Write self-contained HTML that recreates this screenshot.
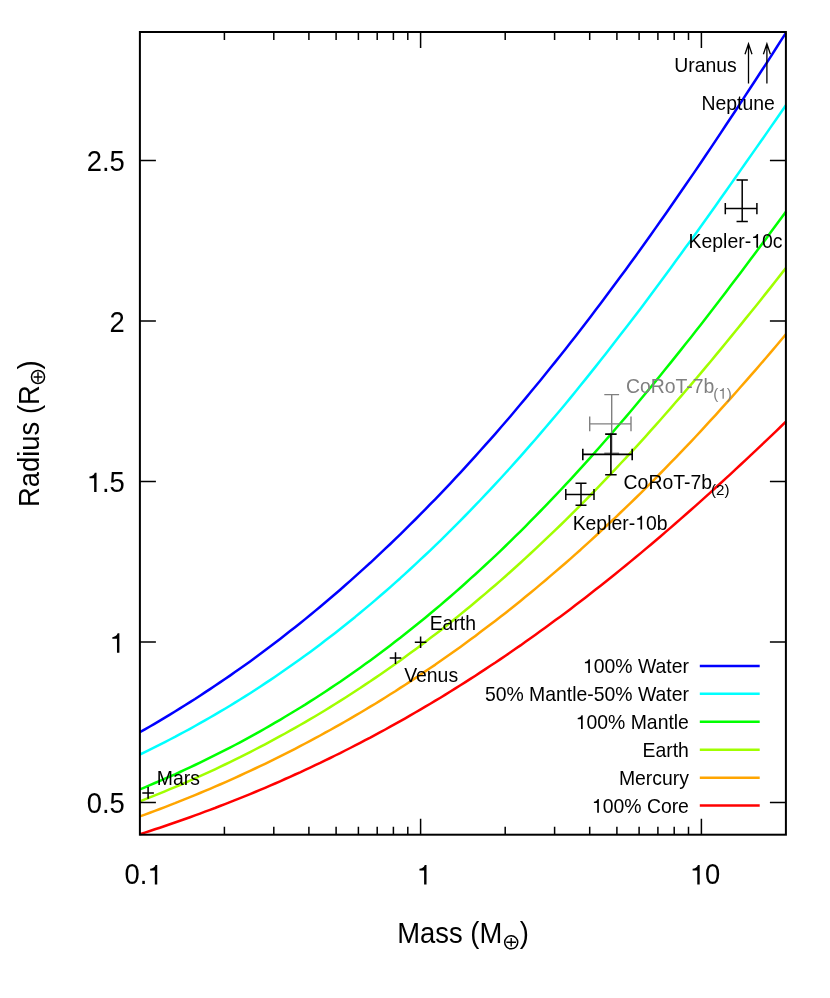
<!DOCTYPE html>
<html><head><meta charset="utf-8"><title>Mass-Radius</title>
<style>
html,body{margin:0;padding:0;background:#fff;}
svg{display:block;will-change:transform;transform:translateZ(0);}
text{font-family:"Liberation Sans",sans-serif;fill:#000;}
.big{font-size:27.4px;}
.sm{font-size:19.4px;}
.sub{font-size:15.13px;}
.g{fill:#808080;}
.h{fill:none;}
</style></head><body>
<svg width="830" height="998" viewBox="0 0 830 998">
<rect width="830" height="998" fill="#fff"/>

<g fill="none" stroke-width="2.5" stroke-linejoin="round">
<polyline stroke="#0000ff" points="139.9,732.2 144.9,729.4 149.9,726.5 154.9,723.6 159.9,720.6 164.9,717.6 169.9,714.6 175.0,711.5 180.0,708.4 185.0,705.3 190.0,702.1 195.0,699.0 200.0,695.7 205.0,692.4 210.0,689.1 215.0,685.8 220.0,682.4 225.0,679.0 230.0,675.6 235.0,672.1 240.1,668.5 245.1,665.0 250.1,661.4 255.1,657.7 260.1,654.0 265.1,650.3 270.1,646.6 275.1,642.8 280.1,638.9 285.1,635.0 290.1,631.1 295.1,627.2 300.1,623.2 305.2,619.1 310.2,615.0 315.2,610.9 320.2,606.7 325.2,602.5 330.2,598.3 335.2,594.0 340.2,589.7 345.2,585.3 350.2,580.9 355.2,576.4 360.2,571.9 365.2,567.3 370.3,562.8 375.3,558.1 380.3,553.4 385.3,548.7 390.3,544.0 395.3,539.1 400.3,534.3 405.3,529.4 410.3,524.4 415.3,519.5 420.3,514.4 425.3,509.4 430.3,504.2 435.4,499.1 440.4,493.9 445.4,488.6 450.4,483.3 455.4,477.9 460.4,472.6 465.4,467.1 470.4,461.6 475.4,456.1 480.4,450.5 485.4,444.9 490.4,439.3 495.5,433.6 500.5,427.8 505.5,422.0 510.5,416.2 515.5,410.3 520.5,404.3 525.5,398.4 530.5,392.3 535.5,386.3 540.5,380.2 545.5,374.0 550.5,367.8 555.5,361.6 560.6,355.3 565.6,349.0 570.6,342.6 575.6,336.2 580.6,329.7 585.6,323.2 590.6,316.7 595.6,310.1 600.6,303.5 605.6,296.8 610.6,290.1 615.6,283.3 620.6,276.5 625.7,269.7 630.7,262.8 635.7,255.9 640.7,249.0 645.7,242.0 650.7,235.0 655.7,227.9 660.7,220.8 665.7,213.7 670.7,206.5 675.7,199.3 680.7,192.0 685.7,184.8 690.8,177.4 695.8,170.1 700.8,162.7 705.8,155.3 710.8,147.9 715.8,140.4 720.8,132.9 725.8,125.3 730.8,117.8 735.8,110.2 740.8,102.6 745.8,94.9 750.8,87.2 755.9,79.5 760.9,71.8 765.9,64.1 770.9,56.3 775.9,48.5 780.9,40.7 785.9,32.9"/>
<polyline stroke="#00ffff" points="139.9,754.5 144.9,752.1 149.9,749.7 154.9,747.2 159.9,744.7 164.9,742.1 169.9,739.5 175.0,736.9 180.0,734.2 185.0,731.5 190.0,728.8 195.0,726.0 200.0,723.2 205.0,720.4 210.0,717.5 215.0,714.6 220.0,711.7 225.0,708.7 230.0,705.7 235.0,702.6 240.1,699.5 245.1,696.4 250.1,693.2 255.1,690.0 260.1,686.7 265.1,683.4 270.1,680.1 275.1,676.7 280.1,673.3 285.1,669.8 290.1,666.3 295.1,662.8 300.1,659.2 305.2,655.6 310.2,651.9 315.2,648.2 320.2,644.4 325.2,640.6 330.2,636.8 335.2,632.9 340.2,628.9 345.2,624.9 350.2,620.9 355.2,616.9 360.2,612.7 365.2,608.6 370.3,604.4 375.3,600.1 380.3,595.8 385.3,591.5 390.3,587.1 395.3,582.6 400.3,578.2 405.3,573.6 410.3,569.0 415.3,564.4 420.3,559.7 425.3,555.0 430.3,550.3 435.4,545.4 440.4,540.6 445.4,535.7 450.4,530.7 455.4,525.7 460.4,520.6 465.4,515.5 470.4,510.4 475.4,505.2 480.4,500.0 485.4,494.7 490.4,489.3 495.5,483.9 500.5,478.5 505.5,473.0 510.5,467.5 515.5,461.9 520.5,456.3 525.5,450.6 530.5,444.9 535.5,439.2 540.5,433.4 545.5,427.5 550.5,421.6 555.5,415.7 560.6,409.7 565.6,403.7 570.6,397.6 575.6,391.5 580.6,385.3 585.6,379.1 590.6,372.9 595.6,366.6 600.6,360.3 605.6,353.9 610.6,347.5 615.6,341.1 620.6,334.6 625.7,328.1 630.7,321.6 635.7,315.0 640.7,308.4 645.7,301.7 650.7,295.0 655.7,288.3 660.7,281.5 665.7,274.7 670.7,267.9 675.7,261.1 680.7,254.2 685.7,247.3 690.8,240.4 695.8,233.4 700.8,226.4 705.8,219.4 710.8,212.4 715.8,205.4 720.8,198.3 725.8,191.2 730.8,184.1 735.8,177.0 740.8,169.9 745.8,162.8 750.8,155.6 755.9,148.4 760.9,141.3 765.9,134.1 770.9,126.9 775.9,119.7 780.9,112.5 785.9,105.3"/>
<polyline stroke="#00ff00" points="139.9,789.3 144.9,787.3 149.9,785.2 154.9,783.0 159.9,780.9 164.9,778.7 169.9,776.5 175.0,774.3 180.0,772.0 185.0,769.7 190.0,767.4 195.0,765.0 200.0,762.6 205.0,760.2 210.0,757.7 215.0,755.2 220.0,752.7 225.0,750.2 230.0,747.6 235.0,745.0 240.1,742.3 245.1,739.6 250.1,736.9 255.1,734.1 260.1,731.3 265.1,728.5 270.1,725.6 275.1,722.7 280.1,719.8 285.1,716.8 290.1,713.8 295.1,710.8 300.1,707.7 305.2,704.6 310.2,701.4 315.2,698.2 320.2,695.0 325.2,691.7 330.2,688.4 335.2,685.0 340.2,681.7 345.2,678.2 350.2,674.7 355.2,671.2 360.2,667.7 365.2,664.1 370.3,660.4 375.3,656.8 380.3,653.1 385.3,649.3 390.3,645.5 395.3,641.6 400.3,637.8 405.3,633.8 410.3,629.8 415.3,625.8 420.3,621.8 425.3,617.7 430.3,613.5 435.4,609.3 440.4,605.1 445.4,600.8 450.4,596.5 455.4,592.1 460.4,587.7 465.4,583.3 470.4,578.7 475.4,574.2 480.4,569.6 485.4,565.0 490.4,560.3 495.5,555.6 500.5,550.8 505.5,546.0 510.5,541.1 515.5,536.2 520.5,531.3 525.5,526.3 530.5,521.2 535.5,516.1 540.5,511.0 545.5,505.8 550.5,500.6 555.5,495.4 560.6,490.0 565.6,484.7 570.6,479.3 575.6,473.9 580.6,468.4 585.6,462.9 590.6,457.3 595.6,451.7 600.6,446.0 605.6,440.3 610.6,434.6 615.6,428.8 620.6,423.0 625.7,417.1 630.7,411.2 635.7,405.3 640.7,399.3 645.7,393.3 650.7,387.2 655.7,381.1 660.7,375.0 665.7,368.8 670.7,362.6 675.7,356.4 680.7,350.1 685.7,343.8 690.8,337.5 695.8,331.1 700.8,324.7 705.8,318.2 710.8,311.8 715.8,305.3 720.8,298.8 725.8,292.2 730.8,285.6 735.8,279.0 740.8,272.4 745.8,265.7 750.8,259.0 755.9,252.3 760.9,245.6 765.9,238.9 770.9,232.1 775.9,225.3 780.9,218.5 785.9,211.7"/>
<polyline stroke="#a0ff00" points="139.9,801.3 144.9,799.3 149.9,797.4 154.9,795.4 159.9,793.3 164.9,791.3 169.9,789.2 175.0,787.1 180.0,785.0 185.0,782.8 190.0,780.6 195.0,778.4 200.0,776.2 205.0,773.9 210.0,771.6 215.0,769.3 220.0,766.9 225.0,764.5 230.0,762.1 235.0,759.6 240.1,757.2 245.1,754.7 250.1,752.1 255.1,749.5 260.1,746.9 265.1,744.3 270.1,741.6 275.1,738.9 280.1,736.2 285.1,733.5 290.1,730.7 295.1,727.8 300.1,725.0 305.2,722.1 310.2,719.2 315.2,716.2 320.2,713.2 325.2,710.2 330.2,707.1 335.2,704.0 340.2,700.9 345.2,697.7 350.2,694.5 355.2,691.2 360.2,688.0 365.2,684.6 370.3,681.3 375.3,677.9 380.3,674.5 385.3,671.0 390.3,667.5 395.3,664.0 400.3,660.4 405.3,656.8 410.3,653.1 415.3,649.4 420.3,645.7 425.3,641.9 430.3,638.1 435.4,634.3 440.4,630.4 445.4,626.4 450.4,622.5 455.4,618.5 460.4,614.4 465.4,610.3 470.4,606.2 475.4,602.0 480.4,597.8 485.4,593.6 490.4,589.3 495.5,585.0 500.5,580.6 505.5,576.2 510.5,571.7 515.5,567.2 520.5,562.7 525.5,558.1 530.5,553.5 535.5,548.9 540.5,544.2 545.5,539.4 550.5,534.7 555.5,529.8 560.6,525.0 565.6,520.1 570.6,515.1 575.6,510.2 580.6,505.1 585.6,500.1 590.6,495.0 595.6,489.8 600.6,484.6 605.6,479.4 610.6,474.2 615.6,468.9 620.6,463.5 625.7,458.2 630.7,452.7 635.7,447.3 640.7,441.8 645.7,436.3 650.7,430.7 655.7,425.1 660.7,419.5 665.7,413.8 670.7,408.1 675.7,402.3 680.7,396.6 685.7,390.7 690.8,384.9 695.8,379.0 700.8,373.1 705.8,367.1 710.8,361.2 715.8,355.1 720.8,349.1 725.8,343.0 730.8,336.9 735.8,330.8 740.8,324.6 745.8,318.4 750.8,312.2 755.9,306.0 760.9,299.7 765.9,293.4 770.9,287.1 775.9,280.7 780.9,274.4 785.9,268.0"/>
<polyline stroke="#ffa500" points="139.9,816.4 144.9,814.6 149.9,812.8 154.9,810.9 159.9,809.0 164.9,807.1 169.9,805.1 175.0,803.2 180.0,801.2 185.0,799.2 190.0,797.2 195.0,795.1 200.0,793.0 205.0,790.9 210.0,788.8 215.0,786.7 220.0,784.5 225.0,782.3 230.0,780.1 235.0,777.8 240.1,775.5 245.1,773.2 250.1,770.9 255.1,768.5 260.1,766.2 265.1,763.8 270.1,761.3 275.1,758.9 280.1,756.4 285.1,753.9 290.1,751.3 295.1,748.8 300.1,746.2 305.2,743.5 310.2,740.9 315.2,738.2 320.2,735.5 325.2,732.7 330.2,730.0 335.2,727.2 340.2,724.3 345.2,721.5 350.2,718.6 355.2,715.7 360.2,712.7 365.2,709.7 370.3,706.7 375.3,703.7 380.3,700.6 385.3,697.5 390.3,694.3 395.3,691.2 400.3,687.9 405.3,684.7 410.3,681.4 415.3,678.1 420.3,674.8 425.3,671.4 430.3,668.0 435.4,664.6 440.4,661.1 445.4,657.6 450.4,654.1 455.4,650.5 460.4,646.9 465.4,643.3 470.4,639.6 475.4,635.9 480.4,632.1 485.4,628.3 490.4,624.5 495.5,620.7 500.5,616.8 505.5,612.9 510.5,608.9 515.5,604.9 520.5,600.9 525.5,596.8 530.5,592.7 535.5,588.6 540.5,584.4 545.5,580.2 550.5,575.9 555.5,571.6 560.6,567.3 565.6,563.0 570.6,558.6 575.6,554.1 580.6,549.7 585.6,545.1 590.6,540.6 595.6,536.0 600.6,531.4 605.6,526.7 610.6,522.0 615.6,517.3 620.6,512.5 625.7,507.7 630.7,502.9 635.7,498.0 640.7,493.1 645.7,488.1 650.7,483.1 655.7,478.1 660.7,473.0 665.7,467.9 670.7,462.7 675.7,457.6 680.7,452.3 685.7,447.1 690.8,441.8 695.8,436.5 700.8,431.1 705.8,425.7 710.8,420.2 715.8,414.8 720.8,409.2 725.8,403.7 730.8,398.1 735.8,392.5 740.8,386.8 745.8,381.1 750.8,375.4 755.9,369.6 760.9,363.8 765.9,358.0 770.9,352.1 775.9,346.2 780.9,340.3 785.9,334.3"/>
<polyline stroke="#ff0000" points="139.9,834.2 144.9,832.6 149.9,831.0 154.9,829.3 159.9,827.7 164.9,826.0 169.9,824.3 175.0,822.5 180.0,820.8 185.0,819.0 190.0,817.2 195.0,815.4 200.0,813.6 205.0,811.7 210.0,809.8 215.0,808.0 220.0,806.0 225.0,804.1 230.0,802.1 235.0,800.1 240.1,798.1 245.1,796.1 250.1,794.1 255.1,792.0 260.1,789.9 265.1,787.8 270.1,785.6 275.1,783.5 280.1,781.3 285.1,779.0 290.1,776.8 295.1,774.5 300.1,772.3 305.2,769.9 310.2,767.6 315.2,765.2 320.2,762.9 325.2,760.4 330.2,758.0 335.2,755.5 340.2,753.1 345.2,750.5 350.2,748.0 355.2,745.4 360.2,742.8 365.2,740.2 370.3,737.6 375.3,734.9 380.3,732.2 385.3,729.5 390.3,726.7 395.3,723.9 400.3,721.1 405.3,718.3 410.3,715.4 415.3,712.5 420.3,709.6 425.3,706.7 430.3,703.7 435.4,700.7 440.4,697.7 445.4,694.6 450.4,691.5 455.4,688.4 460.4,685.3 465.4,682.1 470.4,678.9 475.4,675.7 480.4,672.4 485.4,669.1 490.4,665.8 495.5,662.5 500.5,659.1 505.5,655.7 510.5,652.3 515.5,648.8 520.5,645.4 525.5,641.8 530.5,638.3 535.5,634.7 540.5,631.1 545.5,627.5 550.5,623.8 555.5,620.1 560.6,616.4 565.6,612.7 570.6,608.9 575.6,605.1 580.6,601.3 585.6,597.4 590.6,593.5 595.6,589.6 600.6,585.7 605.6,581.7 610.6,577.7 615.6,573.7 620.6,569.6 625.7,565.5 630.7,561.4 635.7,557.3 640.7,553.1 645.7,548.9 650.7,544.7 655.7,540.5 660.7,536.2 665.7,531.9 670.7,527.6 675.7,523.2 680.7,518.9 685.7,514.5 690.8,510.0 695.8,505.6 700.8,501.1 705.8,496.6 710.8,492.1 715.8,487.5 720.8,483.0 725.8,478.4 730.8,473.8 735.8,469.1 740.8,464.5 745.8,459.8 750.8,455.1 755.9,450.4 760.9,445.6 765.9,440.9 770.9,436.1 775.9,431.3 780.9,426.5 785.9,421.6"/>
</g>
<g stroke-width="2.5">
<line x1="699.8" x2="759.7" y1="665.9" y2="665.9" stroke="#0000ff"/>
<line x1="699.8" x2="759.7" y1="693.8" y2="693.8" stroke="#00ffff"/>
<line x1="699.8" x2="759.7" y1="721.8" y2="721.8" stroke="#00ff00"/>
<line x1="699.8" x2="759.7" y1="749.8" y2="749.8" stroke="#a0ff00"/>
<line x1="699.8" x2="759.7" y1="777.7" y2="777.7" stroke="#ffa500"/>
<line x1="699.8" x2="759.7" y1="805.6" y2="805.6" stroke="#ff0000"/>
</g>
<g stroke="#000" stroke-width="1.5" fill="none">
<path d="M224.4,834.7v-8M224.4,32.0v8M273.8,834.7v-8M273.8,32.0v8M308.9,834.7v-8M308.9,32.0v8M336.1,834.7v-8M336.1,32.0v8M358.4,834.7v-8M358.4,32.0v8M377.2,834.7v-8M377.2,32.0v8M393.4,834.7v-8M393.4,32.0v8M407.8,834.7v-8M407.8,32.0v8M505.2,834.7v-8M505.2,32.0v8M554.6,834.7v-8M554.6,32.0v8M589.7,834.7v-8M589.7,32.0v8M616.9,834.7v-8M616.9,32.0v8M639.1,834.7v-8M639.1,32.0v8M657.9,834.7v-8M657.9,32.0v8M674.2,834.7v-8M674.2,32.0v8M688.5,834.7v-8M688.5,32.0v8M420.6,834.7v-16M420.6,32.0v16M701.4,834.7v-16M701.4,32.0v16M139.9,802.6h16M785.9,802.6h-16M139.9,642.1h16M785.9,642.1h-16M139.9,481.5h16M785.9,481.5h-16M139.9,321.0h16M785.9,321.0h-16M139.9,160.4h16M785.9,160.4h-16"/>
</g>
<rect x="139.9" y="32.0" width="646.0" height="802.7" fill="none" stroke="#000" stroke-width="2"/>
<text class="big" transform="translate(397.2,942.7) scale(1,1.055)">Mass (M</text>
<g stroke="#000" stroke-width="1.5" fill="none"><circle cx="511.2" cy="942.3" r="6.55"/><path d="M506.4,942.3h9.6M511.2,938.0v8.6" stroke-width="1.4"/></g>
<text class="big" transform="translate(519.8,942.7) scale(1,1.055)">)</text>
<g transform="translate(38.9,507) rotate(-90)">
<text class="big" transform="scale(1,1.055)">Radius (R</text>
<g stroke="#000" stroke-width="1.5" fill="none"><circle cx="130" cy="-0.9" r="6.55"/><path d="M125.2,-0.9h9.6M130,-5.2v8.6" stroke-width="1.4"/></g>
<text class="big" transform="translate(137.4,0) scale(1,1.055)">)</text>
</g>
<path d="M142.3,792.9h11.6M148.1,787.1v11.6" stroke="#000" stroke-width="1.5" fill="none"/>
<path d="M389.7,658.1h11.6M395.5,652.3v11.6" stroke="#000" stroke-width="1.5" fill="none"/>
<path d="M414.8,642.2h11.6M420.6,636.4v11.6" stroke="#000" stroke-width="1.5" fill="none"/>
<path d="M589.7,423.9H631.0M589.7,416.5v14.8M631.0,416.5v14.8M611.7,394.6V453.2M604.3000000000001,394.6h14.8M604.3000000000001,453.2h14.8" stroke="#808080" stroke-width="1.4" fill="none"/>
<path d="M582.8,454.4H632.2M582.8,448.65v11.5M632.2,448.65v11.5M610.9,434.1V474.7M605.15,434.1h11.5M605.15,474.7h11.5" stroke="#000" stroke-width="1.6" fill="none"/>
<path d="M565.8,494.4H594M565.8,488.9v11M594,488.9v11M581,483.3V505.2M575.5,483.3h11M575.5,505.2h11" stroke="#000" stroke-width="1.5" fill="none"/>
<path d="M725.3,208.6H756.9M725.3,202.95v11.3M756.9,202.95v11.3M742.2,180.1V221.4M736.5500000000001,180.1h11.3M736.5500000000001,221.4h11.3" stroke="#000" stroke-width="1.5" fill="none"/>
<path d="M748.5,83.4V44M745.0,54.2L748.5,43.7L752.0,54.2" stroke="#000" stroke-width="1.3" fill="none"/>
<path d="M766.9,83.4V44M763.4,54.2L766.9,43.7L770.4,54.2" stroke="#000" stroke-width="1.3" fill="none"/>
<text class="sm" transform="translate(688.9,673.1) scale(1,1.02)" text-anchor="end"><tspan class="h">1</tspan>00% Water</text>
<text class="sm" transform="translate(688.9,701.0) scale(1,1.02)" text-anchor="end">50% Mantle-50% Water</text>
<text class="sm" transform="translate(688.9,729.0) scale(1,1.02)" text-anchor="end"><tspan class="h">1</tspan>00% Mantle</text>
<text class="sm" transform="translate(688.9,757.0) scale(1,1.02)" text-anchor="end">Earth</text>
<text class="sm" transform="translate(688.9,784.9) scale(1,1.02)" text-anchor="end">Mercury</text>
<text class="sm" transform="translate(688.9,812.8) scale(1,1.02)" text-anchor="end"><tspan class="h">1</tspan>00% Core</text>
<text class="big" transform="translate(124.8,813.2) scale(1,1.055)" text-anchor="end">0.5</text>
<text class="big" transform="translate(124.8,652.7) scale(1,1.055)" text-anchor="end"><tspan class="h">1</tspan></text>
<text class="big" transform="translate(124.8,492.1) scale(1,1.055)" text-anchor="end"><tspan class="h">1</tspan>.5</text>
<text class="big" transform="translate(124.8,331.6) scale(1,1.055)" text-anchor="end">2</text>
<text class="big" transform="translate(124.8,171.0) scale(1,1.055)" text-anchor="end">2.5</text>
<text class="big" transform="translate(143.6,884.4) scale(1,1.055)" text-anchor="middle">0.<tspan class="h">1</tspan></text>
<text class="big" transform="translate(424.3,884.4) scale(1,1.055)" text-anchor="middle"><tspan class="h">1</tspan></text>
<text class="big" transform="translate(705.1,884.4) scale(1,1.055)" text-anchor="middle"><tspan class="h">1</tspan>0</text>
<text class="sm" transform="translate(674.2,71.6) scale(1,1.02)" text-anchor="start">Uranus</text>
<text class="sm" transform="translate(701.5,109.9) scale(1,1.02)" text-anchor="start">Neptune</text>
<text class="sm" transform="translate(688.6,247.8) scale(1,1.02)" text-anchor="start">Kepler-<tspan class="h">1</tspan>0c</text>
<text class="sm g" transform="translate(626,393.0) scale(1,1.02)" text-anchor="start">CoRoT-7b<tspan class="sub" dx="-1" dy="5.6">(<tspan class="h">1</tspan>)</tspan></text>
<text class="sm" transform="translate(623.6,489.3) scale(1,1.02)" text-anchor="start">CoRoT-7b<tspan class="sub" dx="-1" dy="5.6">(2)</tspan></text>
<text class="sm" transform="translate(667.5,529.5) scale(1,1.02)" text-anchor="end">Kepler-<tspan class="h">1</tspan>0b</text>
<text class="sm" transform="translate(476,630.0) scale(1,1.02)" text-anchor="end">Earth</text>
<text class="sm" transform="translate(404.2,681.7) scale(1,1.02)" text-anchor="start">Venus</text>
<text class="sm" transform="translate(156.8,784.6) scale(1,1.02)" text-anchor="start">Mars</text>
<path d="M359,0H271V505H101V568C188,572 262,618 296,709H359Z" fill="#000" transform="translate(582.95,673.10) scale(0.01940,-0.01940)"/>
<path d="M359,0H271V505H101V568C188,572 262,618 296,709H359Z" fill="#000" transform="translate(575.76,729.00) scale(0.01940,-0.01940)"/>
<path d="M359,0H271V505H101V568C188,572 262,618 296,709H359Z" fill="#000" transform="translate(591.92,812.80) scale(0.01940,-0.01940)"/>
<path d="M359,0H271V505H101V568C188,572 262,618 296,709H359Z" fill="#000" transform="translate(109.55,652.70) scale(0.02740,-0.02740)"/>
<path d="M359,0H271V505H101V568C188,572 262,618 296,709H359Z" fill="#000" transform="translate(86.71,492.10) scale(0.02740,-0.02740)"/>
<path d="M359,0H271V505H101V568C188,572 262,618 296,709H359Z" fill="#000" transform="translate(147.40,884.40) scale(0.02740,-0.02740)"/>
<path d="M359,0H271V505H101V568C188,572 262,618 296,709H359Z" fill="#000" transform="translate(416.68,884.40) scale(0.02740,-0.02740)"/>
<path d="M359,0H271V505H101V568C188,572 262,618 296,709H359Z" fill="#000" transform="translate(689.85,884.40) scale(0.02740,-0.02740)"/>
<path d="M359,0H271V505H101V568C188,572 262,618 296,709H359Z" fill="#000" transform="translate(751.10,247.80) scale(0.01940,-0.01940)"/>
<path d="M359,0H271V505H101V568C188,572 262,618 296,709H359Z" fill="#808080" transform="translate(718.39,398.71) scale(0.01513,-0.01513)"/>
<path d="M359,0H271V505H101V568C188,572 262,618 296,709H359Z" fill="#000" transform="translate(635.15,529.50) scale(0.01940,-0.01940)"/>
</svg></body></html>
